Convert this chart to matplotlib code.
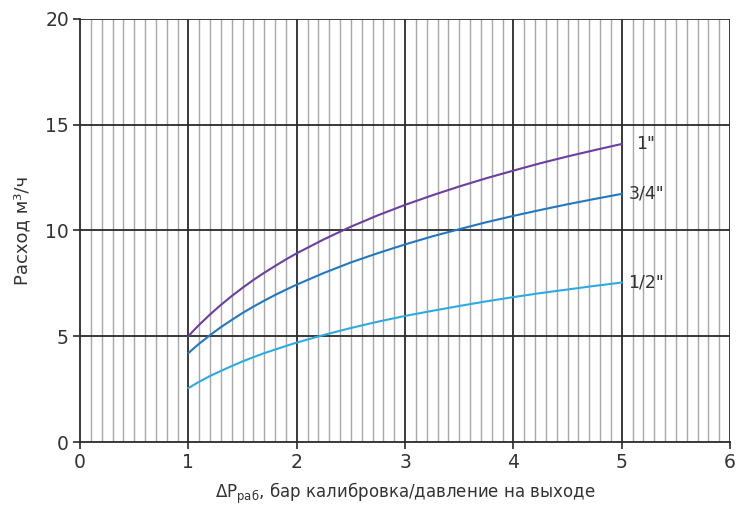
import matplotlib
matplotlib.use("Agg")
import matplotlib.pyplot as plt
import numpy as np

# data
pressure = [1.0, 1.05, 1.1, 1.2, 1.3, 1.4, 1.5, 1.6, 1.7, 1.8, 1.9, 2.0,
            2.25, 2.5, 2.75, 3.0, 3.25, 3.5, 3.75, 4.0, 4.25, 4.5, 4.75, 5.0]
flow_1 = [5.0, 5.28, 5.54, 6.03, 6.48, 6.90, 7.29, 7.66, 8.00, 8.32, 8.63, 8.92,
          9.58, 10.18, 10.72, 11.21, 11.66, 12.08, 12.47, 12.83, 13.18, 13.50, 13.80, 14.09]
flow_34 = [4.2, 4.43, 4.65, 5.05, 5.43, 5.77, 6.10, 6.40, 6.68, 6.95, 7.20, 7.44,
           7.99, 8.49, 8.93, 9.34, 9.72, 10.06, 10.39, 10.69, 10.97, 11.24, 11.49, 11.73]
flow_12 = [2.55, 2.70, 2.85, 3.12, 3.36, 3.59, 3.81, 4.01, 4.20, 4.37, 4.54, 4.70,
           5.06, 5.39, 5.69, 5.96, 6.20, 6.43, 6.65, 6.85, 7.04, 7.21, 7.38, 7.54]
series_labels = ['1"', '3/4"', '1/2"']
colors = ['#6B3FA0', '#2277C2', '#2EAAE2']

plt.rcParams['font.family'] = ['DejaVu Sans']

fig = plt.figure(figsize=(7.36, 5.12), dpi=100)
ax = fig.add_axes([0.1087, 0.1367, 0.8833, 0.8263])

ax.set_xlim(0, 6)
ax.set_ylim(0, 20)

# minor vertical grid every 0.1
for xv in np.arange(0.1, 6.0, 0.1):
    if abs(xv - round(xv)) > 1e-6:
        ax.axvline(xv, color='#a8a8a8', lw=1.0, zorder=1)
for xv in range(1, 7):
    ax.axvline(xv, color='#2a2a2a', lw=1.3, zorder=2)
for yv in [5, 10, 15, 20]:
    ax.axhline(yv, color='#2a2a2a', lw=1.3, zorder=2)

for ys, lab, c in zip([flow_1, flow_34, flow_12], series_labels, colors):
    ax.plot(pressure, ys, color=c, lw=1.5, zorder=3)
    ax.text(5.06 if lab != '1"' else 5.13, ys[-1], lab, fontsize=12.5,
            color='#333333', va='center', ha='left', zorder=4)

for s in ['top', 'right']:
    ax.spines[s].set_visible(False)
for s in ['left', 'bottom']:
    ax.spines[s].set_color('#2a2a2a')
    ax.spines[s].set_linewidth(1.3)

ax.set_xticks(range(0, 7))
ax.set_yticks([0, 5, 10, 15, 20])
ax.tick_params(axis='both', length=5, width=1.2, color='#2a2a2a',
               labelsize=13.5, labelcolor='#333333', pad=3)

ax.set_xlabel(r'ΔP$_{\mathregular{раб}}$, бар калибровка/давление на выходе',
              fontsize=12, color='#333333', labelpad=6)
ax.set_ylabel('Расход м³/ч', fontsize=13, color='#333333', labelpad=10)

fig.savefig('out.png', dpi=100)
